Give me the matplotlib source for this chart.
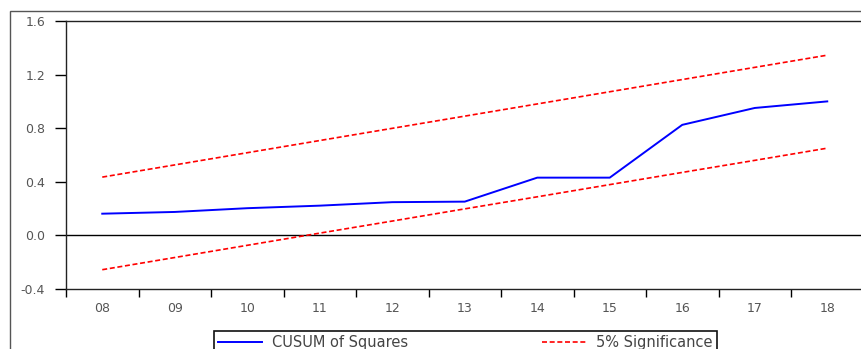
import matplotlib.pyplot as plt
import numpy as np
from matplotlib.patches import Rectangle

# annual observations, plotted at the middle of each year
years = [2008.5, 2009.5, 2010.5, 2011.5, 2012.5, 2013.5,
         2014.5, 2015.5, 2016.5, 2017.5, 2018.5]
year_labels = ['08', '09', '10', '11', '12', '13', '14', '15', '16', '17', '18']

cusum_sq = [0.162, 0.175, 0.203, 0.222, 0.248, 0.252,
            0.431, 0.431, 0.825, 0.951, 1.000]
upper_5 = [0.435, 0.526, 0.617, 0.708, 0.799, 0.890,
           0.981, 1.072, 1.163, 1.254, 1.345]
lower_5 = [-0.256, -0.165, -0.074, 0.017, 0.107, 0.198,
           0.288, 0.379, 0.470, 0.560, 0.651]

W, H = 861, 349
fig = plt.figure(figsize=(W / 100, H / 100), dpi=100)
ax = fig.add_axes([66 / W, 60 / H, 797.5 / W, 268 / H])

# outer frame around the whole graph
fig.add_artist(Rectangle((10 / W, -0.2), 1.0, (H - 11) / H + 0.2,
                         transform=fig.transFigure, fill=False,
                         edgecolor='#555555', lw=1.0, clip_on=False))

ax.axhline(0, color='black', lw=1.0)
l1, = ax.plot(years, cusum_sq, color='#0000ff', lw=1.4)
l2, = ax.plot(years, upper_5, color='#ff0000', lw=1.2, dashes=(3, 1.6))
ax.plot(years, lower_5, color='#ff0000', lw=1.2, dashes=(3, 1.6))

ax.set_xlim(2008, 2019)
ax.set_ylim(-0.4, 1.6)

yt = np.arange(-0.4, 1.61, 0.4)
ax.set_yticks(yt, ['%.1f' % v if abs(v) > 1e-9 else '0.0' for v in yt])
ax.set_xticks(np.arange(2008, 2020))
ax.set_xticks(years, year_labels, minor=True)

ax.tick_params(axis='y', direction='out', length=8, width=1.0, pad=7,
               labelsize=9, labelcolor='#555555')
ax.tick_params(axis='x', which='major', direction='out', length=6, width=1.0,
               labelbottom=False)
ax.tick_params(axis='x', which='minor', length=0, pad=9,
               labelsize=9, labelcolor='#555555')
for lab in ax.get_xticklabels(minor=True) + ax.get_yticklabels():
    lab.set_family('DejaVu Sans')

for s in ax.spines.values():
    s.set_linewidth(1.0)
    s.set_color('#222222')
ax.spines['right'].set_visible(False)

leg = fig.legend([l1, l2], ['CUSUM of Squares', '5% Significance'],
                 loc='upper left', bbox_to_anchor=(214 / W, 0, 503 / W, 18 / H),
                 mode='expand', ncol=2, borderaxespad=0, fancybox=False,
                 edgecolor='#111111', framealpha=1,
                 handlelength=3.0, handletextpad=0.7, borderpad=0.3,
                 prop={'family': 'DejaVu Sans', 'size': 10.5})
leg.get_frame().set_linewidth(1.2)
for t in leg.get_texts():
    t.set_color('#444444')

fig.savefig('out.png', dpi=100)
